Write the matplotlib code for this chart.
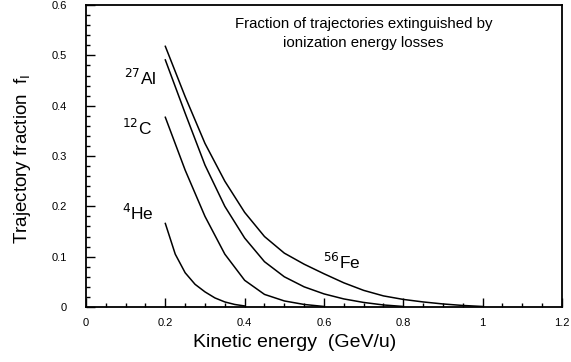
import matplotlib
matplotlib.use("Agg")
import matplotlib.pyplot as plt
from matplotlib.ticker import MultipleLocator, FuncFormatter

plt.rcParams['font.family'] = ['Liberation Sans', 'DejaVu Sans']

fe_x = [0.20, 0.25, 0.30, 0.35, 0.40, 0.45, 0.50, 0.55, 0.60, 0.65, 0.70, 0.75, 0.80, 0.85, 0.90, 0.95, 1.00]
fe_y = [0.518, 0.418, 0.325, 0.250, 0.188, 0.140, 0.107, 0.085, 0.066, 0.048, 0.033, 0.022, 0.015, 0.010, 0.006, 0.003, 0.001]

al_x = [0.20, 0.25, 0.30, 0.35, 0.40, 0.45, 0.50, 0.55, 0.60, 0.65, 0.70, 0.75, 0.80]
al_y = [0.491, 0.385, 0.282, 0.200, 0.137, 0.090, 0.060, 0.040, 0.026, 0.016, 0.009, 0.004, 0.001]

c_x = [0.20, 0.25, 0.30, 0.35, 0.40, 0.45, 0.50, 0.55, 0.60]
c_y = [0.377, 0.272, 0.180, 0.105, 0.053, 0.025, 0.012, 0.005, 0.001]

he_x = [0.200, 0.225, 0.250, 0.275, 0.300, 0.325, 0.350, 0.375, 0.400]
he_y = [0.166, 0.105, 0.068, 0.045, 0.030, 0.018, 0.010, 0.005, 0.002]

x_ticks = [0, 0.2, 0.4, 0.6, 0.8, 1.0, 1.2]
y_ticks = [0, 0.1, 0.2, 0.3, 0.4, 0.5, 0.6]

fig = plt.figure(figsize=(5.71, 3.62), dpi=100)
ax = fig.add_axes([0.1506, 0.152, 0.8336, 0.834])

for xs, ys in [(fe_x, fe_y), (al_x, al_y), (c_x, c_y), (he_x, he_y)]:
    ax.plot(xs, ys, color='black', lw=1.1)

ax.set_xlim(0, 1.2)
ax.set_ylim(0, 0.6)
ax.set_xticks(x_ticks)
ax.set_yticks(y_ticks)
ax.xaxis.set_minor_locator(MultipleLocator(0.05))
ax.yaxis.set_minor_locator(MultipleLocator(0.02))
fmt = FuncFormatter(lambda v, p: '%g' % round(v, 3))
ax.xaxis.set_major_formatter(fmt)
ax.yaxis.set_major_formatter(fmt)
ax.tick_params(which='major', direction='in', length=6.5, width=1.0, labelsize=8)
ax.tick_params(which='minor', direction='in', length=3.2, width=1.0)
ax.tick_params(axis='x', pad=8)
ax.tick_params(axis='y', pad=13.5)
for s in ax.spines.values():
    s.set_linewidth(1.3)

ax.set_xlabel('Kinetic energy  (GeV/u)', fontsize=14)
ax.set_ylabel('Trajectory fraction  f$_\\mathrm{I}$', fontsize=13.5)
ax.xaxis.set_label_coords(0.439, -0.119)
ax.yaxis.set_label_coords(-0.134, 0.49)
ax.xaxis.label.set_va('center')
ax.yaxis.label.set_va('center')

ax.text(0.70, 0.543, 'Fraction of trajectories extinguished by\nionization energy losses',
        ha='center', va='center', fontsize=10.8, linespacing=1.45)

ax.text(0.136, 0.455, '$^{27}$Al', ha='center', va='center', fontsize=12.5)
ax.text(0.129, 0.356, '$^{12}$C', ha='center', va='center', fontsize=12.5)
ax.text(0.130, 0.187, '$^{4}$He', ha='center', va='center', fontsize=12.5)
ax.text(0.645, 0.090, '$^{56}$Fe', ha='center', va='center', fontsize=12.5)

fig.savefig('out.png', dpi=100)
